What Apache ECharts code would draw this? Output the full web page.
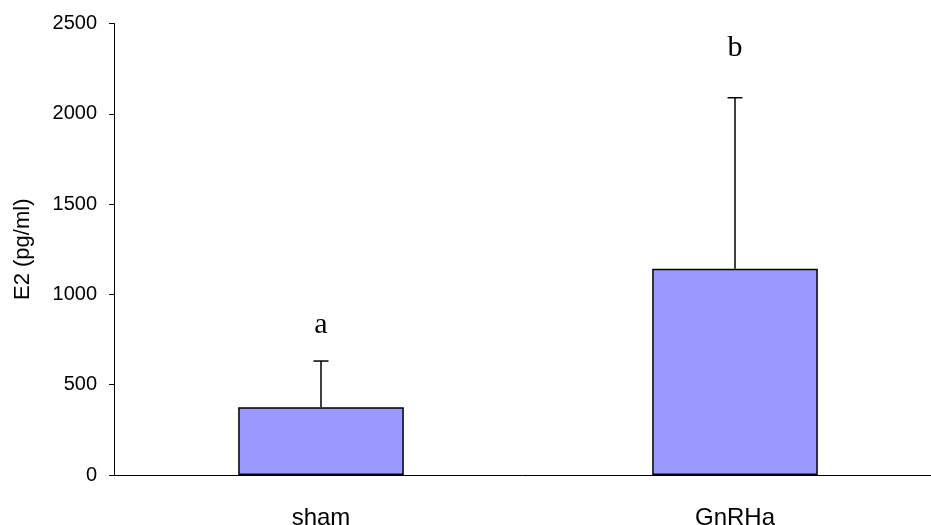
<!DOCTYPE html>
<html>
<head>
<meta charset="utf-8">
<script src="https://cdn.jsdelivr.net/npm/echarts@6/dist/echarts.min.js"></script>
<style>
  html, body { margin: 0; padding: 0; background: #fff; }
  #chart { width: 931px; height: 525px; }
</style>
</head>
<body>
<div id="chart"></div>
<script>
// data
const categories = ['sham', 'GnRHa']
const means = [375, 1142]
const sds = [256, 947]
const letters = ['a', 'b']
const letterPos = [830, 2364]
const yTicks = [0, 500, 1000, 1500, 2000, 2500]

const chart = echarts.init(document.getElementById('chart'))

const errData = categories.map((c, i) => [i, means[i], means[i] + sds[i]])
const letterData = categories.map((c, i) => [i, letterPos[i]])

chart.setOption({
    animation: false,
    grid: {
        left: 114,
        right: -11,
        top: 23.5,
        bottom: 50,
        containLabel: false,
        outerBoundsMode: 'none'
    },
    xAxis: {
        type: 'category',
        data: categories,
        axisLine: { lineStyle: { color: '#000', width: 1 } },
        axisTick: { length: 8, lineStyle: { color: '#000' } },
        axisLabel: {
            color: '#000',
            fontFamily: 'Liberation Sans',
            fontSize: 24,
            margin: 31
        }
    },
    yAxis: {
        type: 'value',
        min: yTicks[0],
        max: yTicks[yTicks.length - 1],
        interval: 500,
        name: 'E2 (pg/ml)',
        nameLocation: 'middle',
        nameGap: 80,
        nameTextStyle: {
            color: '#000',
            fontFamily: 'Liberation Sans',
            fontSize: 22
        },
        axisLine: { show: true, lineStyle: { color: '#000', width: 1 } },
        axisTick: { show: true, length: 5, lineStyle: { color: '#000' } },
        splitLine: { show: false },
        axisLabel: {
            color: '#000',
            fontFamily: 'Liberation Sans',
            fontSize: 20,
            margin: 17,
            formatter: function (v) { return String(v) }
        }
    },
    series: [
        {
            type: 'bar',
            data: means,
            barWidth: '40%',
            itemStyle: {
                color: '#9999FF',
                borderColor: '#000',
                borderWidth: 1.5
            },
            z: 2
        },
        {
            // error bars, upper side only
            type: 'custom',
            data: errData,
            renderItem: function (params, api) {
                const x = api.value(0)
                const base = api.coord([x, api.value(1)])
                const top = api.coord([x, api.value(2)])
                const cap = 7.5
                return {
                    type: 'group',
                    children: [
                        {
                            type: 'line',
                            shape: { x1: base[0], y1: base[1], x2: top[0], y2: top[1] },
                            style: { stroke: '#000', lineWidth: 1.5 }
                        },
                        {
                            type: 'line',
                            shape: { x1: top[0] - cap, y1: top[1], x2: top[0] + cap, y2: top[1] },
                            style: { stroke: '#000', lineWidth: 1.5 }
                        }
                    ]
                }
            },
            z: 3
        },
        {
            // significance letters
            type: 'scatter',
            data: letterData,
            symbolSize: 0,
            itemStyle: { opacity: 1 },
            label: {
                show: true,
                position: 'inside',
                formatter: function (p) { return letters[p.dataIndex] },
                color: '#000',
                opacity: 1,
                fontFamily: 'Liberation Serif',
                fontSize: 30
            },
            z: 4
        }
    ]
})
</script>
</body>
</html>
